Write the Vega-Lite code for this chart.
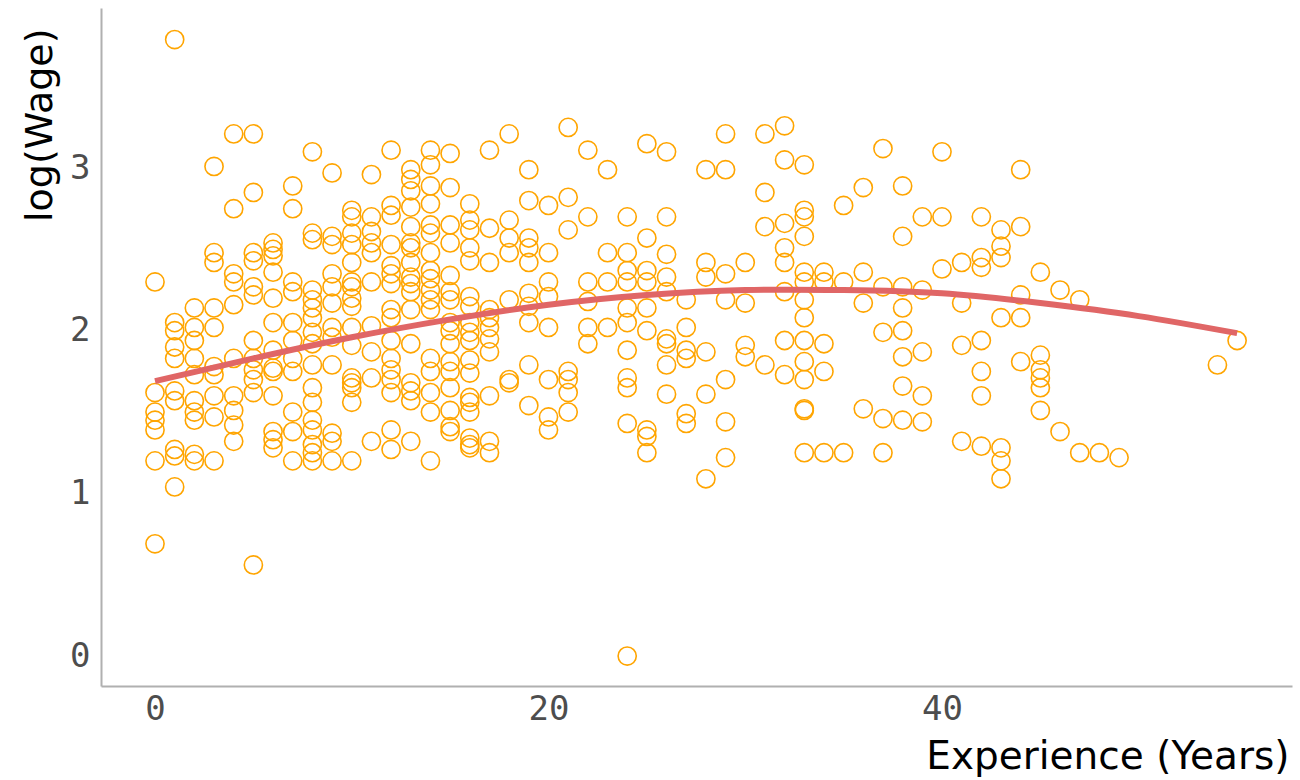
{
"$schema": "https://vega.github.io/schema/vega-lite/v6.json",
"width": 1191, "height": 678,
"autosize": {"type": "none"},
"padding": {"left": 101, "top": 8, "right": 8, "bottom": 94},
"background": "white",
"config": {"view": {"stroke": null}},
"datasets": {
"fit": [
{"e":0,"w":1.69},{"e":5,"w":1.83},{"e":10,"w":1.96},{"e":15,"w":2.07},{"e":20,"w":2.16},{"e":25,"w":2.22},{"e":30,"w":2.25},{"e":35,"w":2.25},{"e":40,"w":2.23},{"e":45,"w":2.17},{"e":50,"w":2.09},{"e":55,"w":1.985}
],
"pts": [
{"e":0,"w":2.30},{"e":0,"w":1.62},{"e":0,"w":1.50},{"e":0,"w":1.45},{"e":0,"w":1.39},{"e":0,"w":1.20},{"e":0,"w":0.69},
{"e":1,"w":3.79},{"e":1,"w":2.05},{"e":1,"w":2.00},{"e":1,"w":1.90},{"e":1,"w":1.83},{"e":1,"w":1.63},{"e":1,"w":1.57},{"e":1,"w":1.27},{"e":1,"w":1.23},{"e":1,"w":1.04},
{"e":2,"w":2.14},{"e":2,"w":2.02},{"e":2,"w":1.94},{"e":2,"w":1.83},{"e":2,"w":1.73},{"e":2,"w":1.57},{"e":2,"w":1.50},{"e":2,"w":1.45},{"e":2,"w":1.24},{"e":2,"w":1.20},
{"e":3,"w":3.01},{"e":3,"w":2.48},{"e":3,"w":2.42},{"e":3,"w":2.14},{"e":3,"w":2.02},{"e":3,"w":1.78},{"e":3,"w":1.73},{"e":3,"w":1.60},{"e":3,"w":1.47},{"e":3,"w":1.20},
{"e":4,"w":3.21},{"e":4,"w":2.75},{"e":4,"w":2.35},{"e":4,"w":2.30},{"e":4,"w":2.16},{"e":4,"w":1.83},{"e":4,"w":1.60},{"e":4,"w":1.51},{"e":4,"w":1.42},{"e":4,"w":1.32},
{"e":5,"w":3.21},{"e":5,"w":2.85},{"e":5,"w":2.48},{"e":5,"w":2.43},{"e":5,"w":2.27},{"e":5,"w":2.22},{"e":5,"w":1.94},{"e":5,"w":1.83},{"e":5,"w":1.76},{"e":5,"w":1.70},{"e":5,"w":1.62},{"e":5,"w":0.56},
{"e":6,"w":2.54},{"e":6,"w":2.50},{"e":6,"w":2.46},{"e":6,"w":2.36},{"e":6,"w":2.20},{"e":6,"w":2.05},{"e":6,"w":1.88},{"e":6,"w":1.77},{"e":6,"w":1.75},{"e":6,"w":1.60},{"e":6,"w":1.38},{"e":6,"w":1.33},{"e":6,"w":1.28},
{"e":7,"w":2.89},{"e":7,"w":2.75},{"e":7,"w":2.30},{"e":7,"w":2.24},{"e":7,"w":2.05},{"e":7,"w":1.94},{"e":7,"w":1.83},{"e":7,"w":1.75},{"e":7,"w":1.50},{"e":7,"w":1.38},{"e":7,"w":1.20},
{"e":8,"w":3.10},{"e":8,"w":2.60},{"e":8,"w":2.56},{"e":8,"w":2.25},{"e":8,"w":2.19},{"e":8,"w":2.14},{"e":8,"w":2.08},{"e":8,"w":1.99},{"e":8,"w":1.92},{"e":8,"w":1.79},{"e":8,"w":1.65},{"e":8,"w":1.56},{"e":8,"w":1.45},{"e":8,"w":1.39},{"e":8,"w":1.30},{"e":8,"w":1.25},{"e":8,"w":1.20},
{"e":9,"w":2.97},{"e":9,"w":2.58},{"e":9,"w":2.53},{"e":9,"w":2.35},{"e":9,"w":2.27},{"e":9,"w":2.17},{"e":9,"w":2.02},{"e":9,"w":1.96},{"e":9,"w":1.79},{"e":9,"w":1.37},{"e":9,"w":1.32},{"e":9,"w":1.20},
{"e":10,"w":2.74},{"e":10,"w":2.70},{"e":10,"w":2.60},{"e":10,"w":2.53},{"e":10,"w":2.42},{"e":10,"w":2.30},{"e":10,"w":2.27},{"e":10,"w":2.20},{"e":10,"w":2.15},{"e":10,"w":2.02},{"e":10,"w":1.91},{"e":10,"w":1.71},{"e":10,"w":1.68},{"e":10,"w":1.65},{"e":10,"w":1.56},{"e":10,"w":1.20},
{"e":11,"w":2.96},{"e":11,"w":2.70},{"e":11,"w":2.61},{"e":11,"w":2.54},{"e":11,"w":2.48},{"e":11,"w":2.30},{"e":11,"w":2.03},{"e":11,"w":1.87},{"e":11,"w":1.71},{"e":11,"w":1.32},
{"e":12,"w":3.11},{"e":12,"w":2.77},{"e":12,"w":2.71},{"e":12,"w":2.53},{"e":12,"w":2.40},{"e":12,"w":2.35},{"e":12,"w":2.29},{"e":12,"w":2.13},{"e":12,"w":2.08},{"e":12,"w":1.94},{"e":12,"w":1.83},{"e":12,"w":1.76},{"e":12,"w":1.70},{"e":12,"w":1.62},{"e":12,"w":1.39},{"e":12,"w":1.27},
{"e":13,"w":2.99},{"e":13,"w":2.93},{"e":13,"w":2.86},{"e":13,"w":2.76},{"e":13,"w":2.64},{"e":13,"w":2.54},{"e":13,"w":2.51},{"e":13,"w":2.42},{"e":13,"w":2.33},{"e":13,"w":2.29},{"e":13,"w":2.24},{"e":13,"w":2.13},{"e":13,"w":1.92},{"e":13,"w":1.68},{"e":13,"w":1.63},{"e":13,"w":1.57},{"e":13,"w":1.32},
{"e":14,"w":3.11},{"e":14,"w":3.02},{"e":14,"w":2.89},{"e":14,"w":2.78},{"e":14,"w":2.65},{"e":14,"w":2.60},{"e":14,"w":2.48},{"e":14,"w":2.37},{"e":14,"w":2.32},{"e":14,"w":2.25},{"e":14,"w":2.19},{"e":14,"w":2.13},{"e":14,"w":1.83},{"e":14,"w":1.75},{"e":14,"w":1.62},{"e":14,"w":1.50},{"e":14,"w":1.20},
{"e":15,"w":3.09},{"e":15,"w":2.88},{"e":15,"w":2.65},{"e":15,"w":2.54},{"e":15,"w":2.34},{"e":15,"w":2.24},{"e":15,"w":2.19},{"e":15,"w":2.05},{"e":15,"w":2.00},{"e":15,"w":1.92},{"e":15,"w":1.81},{"e":15,"w":1.75},{"e":15,"w":1.65},{"e":15,"w":1.51},{"e":15,"w":1.41},{"e":15,"w":1.38},
{"e":16,"w":2.78},{"e":16,"w":2.68},{"e":16,"w":2.62},{"e":16,"w":2.51},{"e":16,"w":2.43},{"e":16,"w":2.21},{"e":16,"w":2.15},{"e":16,"w":2.05},{"e":16,"w":1.99},{"e":16,"w":1.94},{"e":16,"w":1.82},{"e":16,"w":1.74},{"e":16,"w":1.59},{"e":16,"w":1.56},{"e":16,"w":1.50},{"e":16,"w":1.34},{"e":16,"w":1.30},{"e":16,"w":1.28},
{"e":17,"w":3.11},{"e":17,"w":2.63},{"e":17,"w":2.42},{"e":17,"w":2.13},{"e":17,"w":2.08},{"e":17,"w":2.02},{"e":17,"w":1.95},{"e":17,"w":1.87},{"e":17,"w":1.60},{"e":17,"w":1.32},{"e":17,"w":1.25},
{"e":18,"w":3.21},{"e":18,"w":2.68},{"e":18,"w":2.57},{"e":18,"w":2.48},{"e":18,"w":2.19},{"e":18,"w":1.70},{"e":18,"w":1.68},
{"e":19,"w":2.99},{"e":19,"w":2.80},{"e":19,"w":2.57},{"e":19,"w":2.51},{"e":19,"w":2.42},{"e":19,"w":2.23},{"e":19,"w":2.15},{"e":19,"w":2.05},{"e":19,"w":1.79},{"e":19,"w":1.54},
{"e":20,"w":2.77},{"e":20,"w":2.48},{"e":20,"w":2.30},{"e":20,"w":2.21},{"e":20,"w":2.02},{"e":20,"w":1.70},{"e":20,"w":1.47},{"e":20,"w":1.39},
{"e":21,"w":3.25},{"e":21,"w":2.82},{"e":21,"w":2.62},{"e":21,"w":1.75},{"e":21,"w":1.70},{"e":21,"w":1.62},{"e":21,"w":1.50},
{"e":22,"w":3.11},{"e":22,"w":2.70},{"e":22,"w":2.30},{"e":22,"w":2.18},{"e":22,"w":2.02},{"e":22,"w":1.92},
{"e":23,"w":2.99},{"e":23,"w":2.48},{"e":23,"w":2.30},{"e":23,"w":2.02},
{"e":24,"w":2.70},{"e":24,"w":2.48},{"e":24,"w":2.37},{"e":24,"w":2.30},{"e":24,"w":2.14},{"e":24,"w":2.05},{"e":24,"w":1.88},{"e":24,"w":1.71},{"e":24,"w":1.65},{"e":24,"w":1.43},{"e":24,"w":0.00},
{"e":25,"w":3.15},{"e":25,"w":2.57},{"e":25,"w":2.37},{"e":25,"w":2.30},{"e":25,"w":2.14},{"e":25,"w":2.00},{"e":25,"w":1.39},{"e":25,"w":1.35},{"e":25,"w":1.25},
{"e":26,"w":3.10},{"e":26,"w":2.70},{"e":26,"w":2.47},{"e":26,"w":2.33},{"e":26,"w":2.24},{"e":26,"w":1.95},{"e":26,"w":1.92},{"e":26,"w":1.79},{"e":26,"w":1.61},
{"e":27,"w":2.19},{"e":27,"w":2.02},{"e":27,"w":1.88},{"e":27,"w":1.83},{"e":27,"w":1.49},{"e":27,"w":1.43},
{"e":28,"w":2.99},{"e":28,"w":2.42},{"e":28,"w":2.33},{"e":28,"w":1.87},{"e":28,"w":1.61},{"e":28,"w":1.09},
{"e":29,"w":3.21},{"e":29,"w":2.99},{"e":29,"w":2.35},{"e":29,"w":2.19},{"e":29,"w":1.70},{"e":29,"w":1.44},{"e":29,"w":1.22},
{"e":30,"w":2.42},{"e":30,"w":2.17},{"e":30,"w":1.91},{"e":30,"w":1.84},
{"e":31,"w":3.21},{"e":31,"w":2.85},{"e":31,"w":2.64},{"e":31,"w":1.79},
{"e":32,"w":3.26},{"e":32,"w":3.05},{"e":32,"w":2.66},{"e":32,"w":2.51},{"e":32,"w":2.42},{"e":32,"w":2.24},{"e":32,"w":1.94},{"e":32,"w":1.73},
{"e":33,"w":3.02},{"e":33,"w":2.74},{"e":33,"w":2.70},{"e":33,"w":2.58},{"e":33,"w":2.36},{"e":33,"w":2.30},{"e":33,"w":2.19},{"e":33,"w":2.08},{"e":33,"w":1.94},{"e":33,"w":1.81},{"e":33,"w":1.70},{"e":33,"w":1.52},{"e":33,"w":1.51},{"e":33,"w":1.25},
{"e":34,"w":2.36},{"e":34,"w":2.30},{"e":34,"w":1.92},{"e":34,"w":1.75},{"e":34,"w":1.25},
{"e":35,"w":2.77},{"e":35,"w":2.30},{"e":35,"w":1.25},
{"e":36,"w":2.88},{"e":36,"w":2.36},{"e":36,"w":2.17},{"e":36,"w":1.52},
{"e":37,"w":3.12},{"e":37,"w":2.27},{"e":37,"w":1.99},{"e":37,"w":1.46},{"e":37,"w":1.25},
{"e":38,"w":2.89},{"e":38,"w":2.58},{"e":38,"w":2.27},{"e":38,"w":2.14},{"e":38,"w":2.00},{"e":38,"w":1.84},{"e":38,"w":1.66},{"e":38,"w":1.45},
{"e":39,"w":2.70},{"e":39,"w":2.25},{"e":39,"w":1.87},{"e":39,"w":1.60},{"e":39,"w":1.44},
{"e":40,"w":3.10},{"e":40,"w":2.70},{"e":40,"w":2.38},
{"e":41,"w":2.42},{"e":41,"w":2.17},{"e":41,"w":1.91},{"e":41,"w":1.32},
{"e":42,"w":2.70},{"e":42,"w":2.45},{"e":42,"w":2.39},{"e":42,"w":1.94},{"e":42,"w":1.75},{"e":42,"w":1.60},{"e":42,"w":1.29},
{"e":43,"w":2.62},{"e":43,"w":2.52},{"e":43,"w":2.45},{"e":43,"w":2.08},{"e":43,"w":1.28},{"e":43,"w":1.20},{"e":43,"w":1.09},
{"e":44,"w":2.99},{"e":44,"w":2.64},{"e":44,"w":2.22},{"e":44,"w":2.08},{"e":44,"w":1.81},
{"e":45,"w":2.36},{"e":45,"w":1.85},{"e":45,"w":1.76},{"e":45,"w":1.71},{"e":45,"w":1.65},{"e":45,"w":1.51},
{"e":46,"w":2.25},{"e":46,"w":1.38},
{"e":47,"w":2.19},{"e":47,"w":1.25},
{"e":48,"w":1.25},
{"e":49,"w":1.22},
{"e":54,"w":1.79},
{"e":55,"w":1.94}
]},
"layer": [
{
"data": {"name": "pts"},
"mark": {"type": "point", "shape": "circle", "filled": false, "color": "#FFA500", "size": 330, "strokeWidth": 1.6, "opacity": 1},
"encoding": {
"x": {"field": "e", "type": "quantitative",
"scale": {"domain": [-2.745, 57.79], "nice": false, "zero": false},
"axis": {"title": "Experience (Years)", "values": [0, 20, 40], "format": "d", "grid": false, "ticks": false, "tickSize": 0,
"domainColor": "#b0b0b0", "domainWidth": 2,
"labelFont": "DejaVu Sans Mono", "labelFontSize": 34, "labelColor": "#4d4d4d", "labelPadding": 6,
"titleFont": "DejaVu Sans", "titleFontSize": 39, "titleFontWeight": "normal", "titleColor": "#000000",
"titleX": 1188, "titleY": 82, "titleAlign": "right", "titleBaseline": "alphabetic"}},
"y": {"field": "w", "type": "quantitative",
"scale": {"domain": [-0.184, 3.984], "nice": false, "zero": false},
"axis": {"title": "log(Wage)", "values": [0, 1, 2, 3], "format": "d", "grid": false, "ticks": false, "tickSize": 0,
"domainColor": "#b0b0b0", "domainWidth": 2,
"labelFont": "DejaVu Sans Mono", "labelFontSize": 34, "labelColor": "#4d4d4d", "labelPadding": 11,
"titleFont": "DejaVu Sans", "titleFontSize": 38, "titleFontWeight": "normal", "titleColor": "#000000",
"titleAngle": 270, "titleX": -50, "titleY": 20, "titleAlign": "right", "titleBaseline": "alphabetic"}}
}
},
{
"data": {"name": "fit"},
"mark": {"type": "line", "color": "#e06666", "strokeWidth": 6, "strokeCap": "butt", "interpolate": "natural"},
"encoding": {
"x": {"field": "e", "type": "quantitative"},
"y": {"field": "w", "type": "quantitative"}
}
}
]
}
